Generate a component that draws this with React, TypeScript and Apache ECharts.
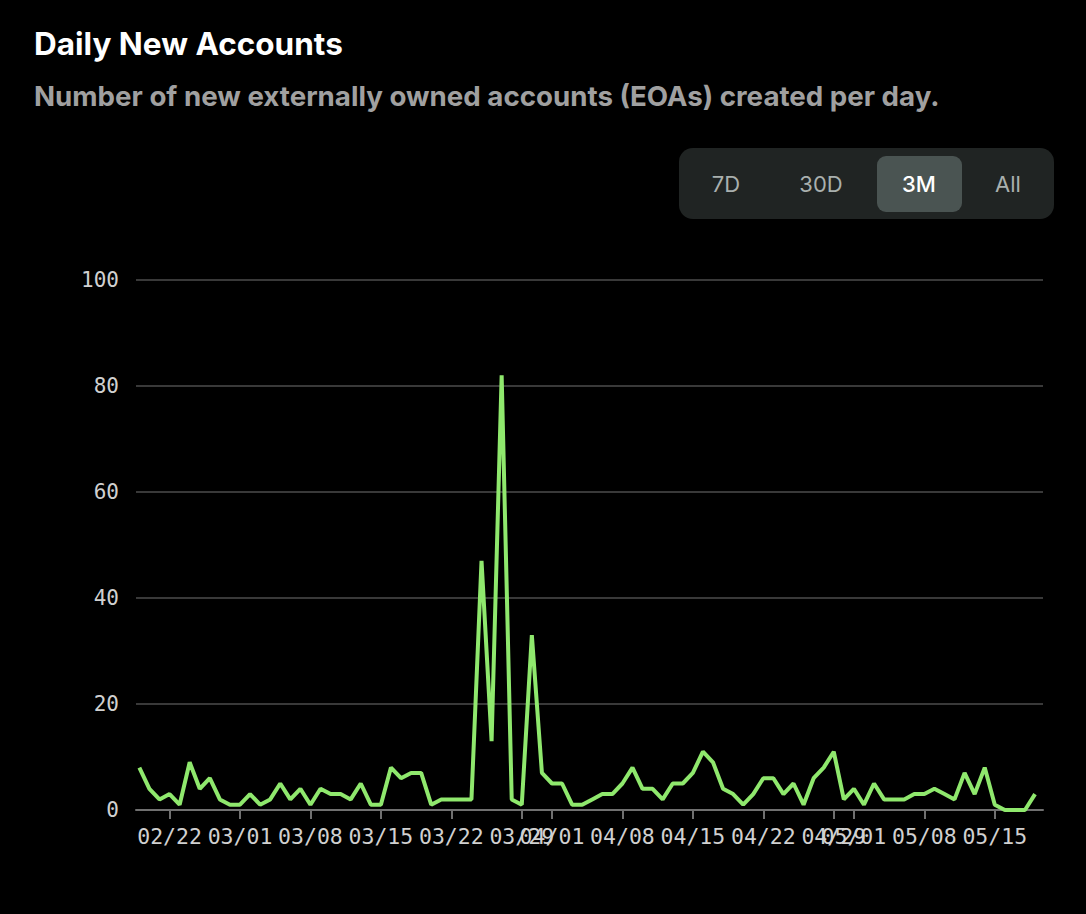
import React, { useEffect, useRef } from "react";
import * as echarts from "echarts";

const TITLE = "Daily New Accounts";
const SUBTITLE = "Number of new externally owned accounts (EOAs) created per day.";
const RANGE_BUTTONS = ["7D", "30D", "3M", "All"];
const ACTIVE_RANGE = "3M";

// Daily values, 2025-02-19 .. 2025-05-19
const febValues = [8, 4, 2, 3, 1, 9, 4, 6, 2, 1]; // Feb 19-28
const marValues = [1, 3, 1, 2, 5, 2, 4, 1, 4, 3, 3, 2, 5, 1, 1, 8, 6, 7, 7, 1, 2, 2, 2, 2, 47, 13, 82, 2, 1, 33, 7];
const aprValues = [5, 5, 1, 1, 2, 3, 3, 5, 8, 4, 4, 2, 5, 5, 7, 11, 9, 4, 3, 1, 3, 6, 6, 3, 5, 1, 6, 8, 11, 2];
const mayValues = [4, 1, 5, 2, 2, 2, 3, 3, 4, 3, 2, 7, 3, 8, 1, 0, 0, 0, 3]; // May 1-19

const yTicks = [0, 20, 40, 60, 80, 100];

function buildSeries(): [number, number][] {
  const out: [number, number][] = [];
  const push = (month: number, startDay: number, vals: number[]) => {
    vals.forEach((v, i) => out.push([new Date(2025, month, startDay + i).getTime(), v]));
  };
  push(1, 19, febValues);
  push(2, 1, marValues);
  push(3, 1, aprValues);
  push(4, 1, mayValues);
  return out;
}

export default function App() {
  const ref = useRef<HTMLDivElement>(null);
  useEffect(() => {
    document.body.style.margin = "0";
    document.body.style.background = "#000";
    const chart = echarts.init(ref.current!, undefined, { renderer: "svg" });
    const data = buildSeries();
    const HOUR = 3600 * 1000;
    const minT = new Date(2025, 1, 19).getTime() - 8 * HOUR;
    const maxT = new Date(2025, 4, 19).getTime() + 19 * HOUR;

    const btnLeft = 679, btnTop = 148, btnW = 375, btnH = 71;
    const centers = [726, 821, 919, 1008];
    const graphics: any[] = [
      {
        type: "rect",
        shape: { x: btnLeft, y: btnTop, width: btnW, height: btnH, r: 14 },
        style: { fill: "#202423" },
      },
    ];
    RANGE_BUTTONS.forEach((b, i) => {
      const active = b === ACTIVE_RANGE;
      if (active) {
        graphics.push({
          type: "rect",
          shape: { x: centers[i] - 42, y: 156, width: 85, height: 56, r: 9 },
          style: { fill: "#4a5452" },
        });
      }
      graphics.push({
        type: "text",
        x: centers[i],
        y: 184,
        style: {
          text: b,
          fill: active ? "#ffffff" : "#a9b0ae",
          font: (active ? "500 " : "400 ") + "22px Inter",
          align: "center",
          verticalAlign: "middle",
        },
      });
    });

    chart.setOption({
      animation: false,
      backgroundColor: "#000000",
      title: [
        {
          text: TITLE,
          left: 34,
          top: 27,
          padding: 0,
          textStyle: { color: "#ffffff", fontFamily: "Inter", fontWeight: 700, fontSize: 31.5 },
        },
        {
          text: SUBTITLE,
          left: 34,
          top: 82,
          padding: 0,
          textStyle: { color: "#a0a0a0", fontFamily: "Inter", fontWeight: 700, fontSize: 27.7 },
        },
      ],
      graphic: graphics,
      grid: { left: 136, right: 43, top: 280, bottom: 104 },
      xAxis: {
        type: "time",
        min: minT,
        max: maxT,
        splitNumber: 8,
        axisLine: { show: true, lineStyle: { color: "#707070", width: 2 } },
        axisTick: { show: true, length: 9, lineStyle: { color: "#707070", width: 2 } },
        splitLine: { show: false },
        axisLabel: {
          formatter: "{MM}/{dd}",
          color: "#d0d0d0",
          fontFamily: "DejaVu Sans Mono",
          fontSize: 21.5,
          margin: 15,
          hideOverlap: false,
        },
      },
      yAxis: {
        type: "value",
        min: yTicks[0],
        max: yTicks[yTicks.length - 1],
        interval: 20,
        axisLine: { show: false },
        axisTick: { show: false },
        splitLine: { lineStyle: { color: "#4c4c4c", width: 1.5 } },
        axisLabel: {
          color: "#d0d0d0",
          fontFamily: "DejaVu Sans Mono",
          fontSize: 21,
          margin: 17,
        },
      },
      series: [
        {
          type: "line",
          data,
          showSymbol: false,
          symbol: "none",
          lineStyle: { color: "#8fe86d", width: 4 },
          itemStyle: { color: "#8fe86d" },
        },
      ],
    });
    return () => chart.dispose();
  }, []);
  return (
    <div
      ref={ref}
      style={{ position: "fixed", left: 0, top: 0, width: 1086, height: 914, background: "#000" }}
    />
  );
}
